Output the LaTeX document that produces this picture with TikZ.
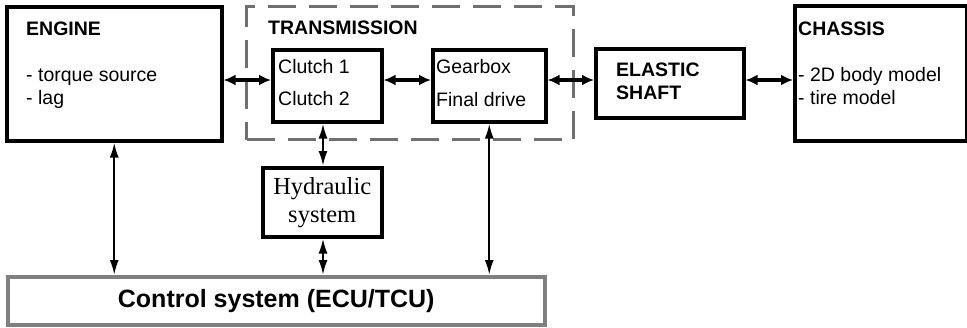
\documentclass[tikz,border=0pt]{standalone}
\usepackage{fontspec}
\setmainfont{Liberation Sans}
\newfontfamily\serifhyd{Liberation Serif}
\usepackage{tikz}
\usetikzlibrary{positioning,arrows.meta}
\definecolor{dashgray}{RGB}{112,112,112}
\definecolor{ctrlgray}{RGB}{128,128,128}

\begin{document}
\begin{tikzpicture}[x=1pt,y=1pt,
    every node/.style={font=\fontsize{19.5}{23}\selectfont,inner sep=0pt},
    block/.style={draw,line width=3.5pt,anchor=north west},
    txt/.style={anchor=base west,align=left},
    link/.style={{Latex[length=12pt,width=11pt]}-{Latex[length=12pt,width=11pt]},line width=3.4pt},
    signal/.style={{Latex[length=15pt,width=9pt]}-{Latex[length=15pt,width=9pt]},line width=2.2pt}]
    \useasboundingbox (0,0) rectangle (967,-327);
    % transmission frame
    \node[draw=dashgray,line width=3.2pt,dash pattern=on 28pt off 13pt,anchor=north west,
          minimum width=327pt,minimum height=133pt] (trans) at (245,-5) {};
    \node[txt] (transtxt) at (268,-34) {\textbf{TRANSMISSION}};
    % blocks
    \node[block,minimum width=215pt,minimum height=134pt] (engine) at (5,-5) {};
    \node[block,minimum width=109pt,minimum height=72pt] (clutch) at (271,-48) {};
    \node[block,minimum width=113pt,minimum height=72pt] (gearbox) at (431,-48) {};
    \node[block,minimum width=148pt,minimum height=69pt] (shaft) at (594,-47) {};
    \node[block,minimum width=172pt,minimum height=135pt] (chassis) at (793,-4) {};
    \node[block,minimum width=119pt,minimum height=69pt,align=center,
          font=\serifhyd\fontsize{24.5}{28}\selectfont] (hyd) at (261,-166) {Hydraulic\\system};
    \node[block,draw=ctrlgray,minimum width=537pt,minimum height=48pt,
          font=\bfseries\fontsize{25}{30}\selectfont] (control) at (6,-275) {Control system (ECU/TCU)};
    % texts (anchored at the last line)
    \node[txt] (engtxt) at (26,-104) {\textbf{ENGINE}\\[23pt]- torque source\\- lag};
    \node[txt] (clutchtxt) at (278,-105) {Clutch 1\\[9pt]Clutch 2};
    \node[txt] (geartxt) at (436,-106) {Gearbox\\[10pt]Final drive};
    \node[txt] (shafttxt) at (616,-99) {\textbf{ELASTIC}\\\textbf{SHAFT}};
    \node[txt] (chassistxt) at (798,-104) {\textbf{CHASSIS}\\[23pt]- 2D body model\\- tire model};
    % connectors
    \coordinate (axis) at (0,-80);
    \coordinate (hydaxis) at (323,0);
    \draw[link] (engine.east |- axis) -- (clutch.west |- axis);
    \draw[link] (clutch.east |- axis) -- (gearbox.west |- axis);
    \draw[link] (gearbox.east |- axis) -- (shaft.west |- axis);
    \draw[link] (shaft.east |- axis) -- (chassis.west |- axis);
    \draw[signal] (engine.south) -- (engine.south |- control.north);
    \draw[signal] (clutch.south -| hydaxis) -- (hyd.north -| hydaxis);
    \draw[signal] (hyd.south -| hydaxis) -- (control.north -| hydaxis);
    \draw[signal] (gearbox.south) -- (gearbox.south |- control.north);
\end{tikzpicture}
\end{document}
